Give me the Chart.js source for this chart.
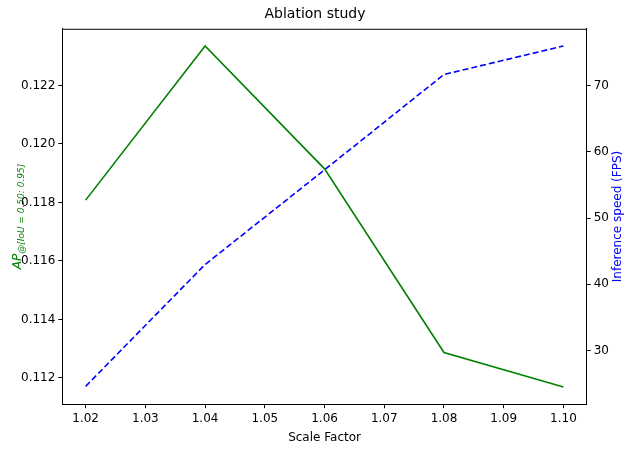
<!DOCTYPE html>
<html>
<head>
<meta charset="utf-8">
<script src="https://cdn.jsdelivr.net/npm/chart.js@4"></script>
<style>
  body { margin: 0; background: #fff; }
  #wrap { width: 636px; height: 453px; }
</style>
</head>
<body>
<div id="wrap"><canvas id="chart"></canvas></div>
<script>
// values
const scaleFactors = [1.02, 1.04, 1.06, 1.08, 1.10];
const apValues = [0.11808, 0.12335, 0.11915, 0.11287, 0.11169];
const fpsValues = [24.6, 43.0, 57.3, 71.7, 76.0];
const xTicks = [1.02, 1.03, 1.04, 1.05, 1.06, 1.07, 1.08, 1.09, 1.10];

const font = { family: 'DejaVu Sans', size: 12 };
const tickGrid = { display: true, drawOnChartArea: false, tickLength: 4, tickColor: '#000' };

new Chart(document.getElementById('chart'), {
  type: 'line',
  data: {
    datasets: [
      {
        label: 'AP',
        data: scaleFactors.map((x, i) => ({ x: x, y: apValues[i] })),
        borderColor: 'green',
        borderWidth: 1.6,
        pointRadius: 0,
        yAxisID: 'y'
      },
      {
        label: 'FPS',
        data: scaleFactors.map((x, i) => ({ x: x, y: fpsValues[i] })),
        borderColor: 'blue',
        borderWidth: 1.6,
        borderDash: [6, 3],
        pointRadius: 0,
        yAxisID: 'y1'
      }
    ]
  },
  options: {
    responsive: true,
    maintainAspectRatio: false,
    animation: false,
    layout: { padding: { top: 4, right: 24, bottom: 6, left: 18 } },
    plugins: {
      legend: { display: false },
      tooltip: { enabled: false },
      title: { display: true, text: 'Ablation study', color: '#000', font: { family: 'DejaVu Sans', size: 14, weight: 'normal' }, padding: { top: 2, bottom: 6 } }
    },
    scales: {
      x: {
        type: 'linear',
        min: 1.0161,
        max: 1.1039,
        afterBuildTicks: (axis) => { axis.ticks = xTicks.map(v => ({ value: v })); },
        ticks: { color: '#000', font: font, callback: v => v.toFixed(2) },
        grid: tickGrid,
        border: { color: '#000' },
        title: { display: true, text: 'Scale Factor', color: '#000', font: font, padding: 2 }
      },
      y: {
        position: 'left',
        min: 0.1111,
        max: 0.12394,
        afterBuildTicks: (axis) => { axis.ticks = [0.112, 0.114, 0.116, 0.118, 0.120, 0.122].map(v => ({ value: v })); },
        ticks: { color: '#000', font: font, callback: v => v.toFixed(3) },
        grid: tickGrid,
        border: { color: '#000' },
        title: { display: false }
      },
      y1: {
        position: 'right',
        min: 21.9,
        max: 78.6,
        afterBuildTicks: (axis) => { axis.ticks = [30, 40, 50, 60, 70].map(v => ({ value: v })); },
        ticks: { color: '#000', font: font },
        grid: tickGrid,
        border: { color: '#000' },
        title: { display: false }
      }
    }
  },
  plugins: [{
    id: 'frame',
    afterDraw(chart) {
      const { ctx, chartArea: a } = chart;
      const midY = (a.top + a.bottom) / 2;
      ctx.save();
      ctx.strokeStyle = '#000';
      ctx.lineWidth = 1;
      ctx.beginPath();
      ctx.moveTo(a.left, a.top + 0.5);
      ctx.lineTo(a.right, a.top + 0.5);
      ctx.stroke();
      // axis titles, both reading bottom to top
      ctx.textAlign = 'center';
      ctx.textBaseline = 'middle';
      ctx.translate(18, midY);
      ctx.rotate(-Math.PI / 2);
      ctx.fillStyle = 'green';
      ctx.font = 'italic 12px "DejaVu Sans"';
      const main = 'AP', sub = '@[IoU = 0.50: 0.95]';
      ctx.font = 'italic 12px "DejaVu Sans"';
      const wMain = ctx.measureText(main).width;
      ctx.font = 'italic 9px "DejaVu Sans"';
      const wSub = ctx.measureText(sub).width;
      const start = -(wMain + wSub) / 2;
      ctx.textAlign = 'left';
      ctx.font = 'italic 12px "DejaVu Sans"';
      ctx.fillText(main, start, 0);
      ctx.font = 'italic 9px "DejaVu Sans"';
      ctx.fillText(sub, start + wMain, 4);
      ctx.restore();
      ctx.save();
      ctx.translate(618, midY);
      ctx.rotate(-Math.PI / 2);
      ctx.textAlign = 'center';
      ctx.textBaseline = 'middle';
      ctx.fillStyle = 'blue';
      ctx.font = '12px "DejaVu Sans"';
      ctx.fillText('Inference speed (FPS)', 0, 0);
      ctx.restore();
    }
  }]
});
</script>
</body>
</html>
